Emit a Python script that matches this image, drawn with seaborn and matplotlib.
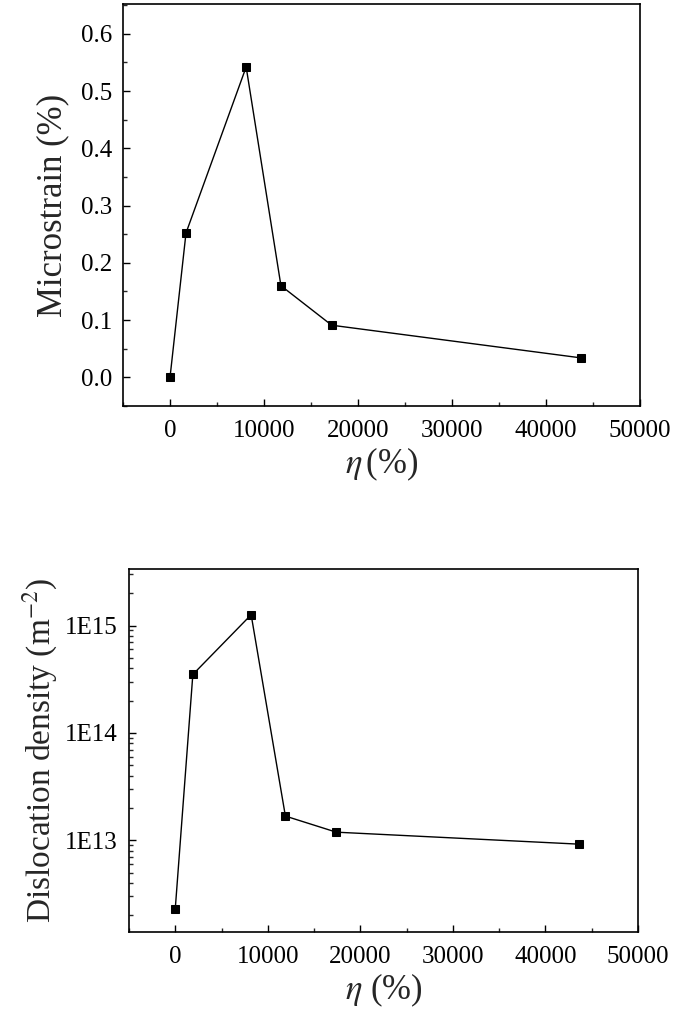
import numpy as np
import pandas as pd
import matplotlib
matplotlib.use("Agg")
import matplotlib.pyplot as plt
from matplotlib.ticker import MultipleLocator, FixedLocator, FuncFormatter, LogLocator, NullFormatter
import seaborn as sns

# Data
eta_strain = [0, 1700, 8100, 11800, 17200, 43700]
microstrain = [0.0, 0.252, 0.542, 0.160, 0.091, 0.034]

eta_disl = [0, 1900, 8200, 11900, 17400, 43650]
dislocation = [2.3e12, 3.5e14, 1.26e15, 1.68e13, 1.19e13, 9.2e12]

x_ticks = [0, 10000, 20000, 30000, 40000, 50000]
y_ticks_top = [0.0, 0.1, 0.2, 0.3, 0.4, 0.5, 0.6]
y_ticks_bot = [1e13, 1e14, 1e15]

sns.set_theme(style="ticks")
plt.rcParams['font.family'] = ['Liberation Serif', 'DejaVu Serif']
plt.rcParams['mathtext.fontset'] = 'stix'
plt.rcParams['xtick.direction'] = 'in'
plt.rcParams['ytick.direction'] = 'in'

fig = plt.figure(figsize=(6.85, 10.21), dpi=100)
ax1 = fig.add_axes([0.1796, 0.6024, 0.7547, 0.3937])
ax2 = fig.add_axes([0.1883, 0.0872, 0.7431, 0.3555])

df1 = pd.DataFrame({"eta": eta_strain, "val": microstrain})
df2 = pd.DataFrame({"eta": eta_disl, "val": dislocation})

line_kw = dict(color="black", linewidth=1.0, marker="s", markersize=5.5,
               markeredgecolor="black", markerfacecolor="black")
sns.lineplot(data=df1, x="eta", y="val", ax=ax1, sort=False, **line_kw)
sns.lineplot(data=df2, x="eta", y="val", ax=ax2, sort=False, **line_kw)

tick_fs = 18
label_fs = 25

# Top axis
ax1.set_xlim(-5000, 50000)
ax1.set_ylim(-0.05, 0.652)
ax1.xaxis.set_major_locator(FixedLocator(x_ticks))
ax1.xaxis.set_minor_locator(MultipleLocator(5000))
ax1.yaxis.set_major_locator(FixedLocator(y_ticks_top))
ax1.yaxis.set_minor_locator(MultipleLocator(0.05))
ax1.yaxis.set_major_formatter(FuncFormatter(lambda v, p: f"{v:.1f}"))
ax1.set_ylabel("Microstrain (%)", fontsize=label_fs, labelpad=8)
ax1.set_xlabel(r"$\eta\,$(%)", fontsize=label_fs, labelpad=3)

# Bottom axis
ax2.set_yscale("log")
ax2.set_xlim(-5000, 50000)
ax2.set_ylim(1.4e12, 3.36e15)
ax2.xaxis.set_major_locator(FixedLocator(x_ticks))
ax2.xaxis.set_minor_locator(MultipleLocator(5000))
ax2.yaxis.set_major_locator(FixedLocator(y_ticks_bot))
ax2.yaxis.set_major_formatter(FuncFormatter(lambda v, p: f"1E{int(round(np.log10(v)))}"))
ax2.yaxis.set_minor_locator(LogLocator(base=10, subs=np.arange(2, 10)))
ax2.yaxis.set_minor_formatter(NullFormatter())
ax2.set_ylabel(r"Dislocation density (m$^{-2}$)", fontsize=label_fs - 1, labelpad=4)
ax2.set_xlabel(r"$\eta$ (%)", fontsize=label_fs, labelpad=3)

for ax in (ax1, ax2):
    for s in ax.spines.values():
        s.set_visible(True)
        s.set_linewidth(1.2)
        s.set_color("black")
    ax.tick_params(axis="both", which="major", length=5, width=1.0, labelsize=tick_fs,
                   colors="black", pad=8)
    ax.tick_params(axis="both", which="minor", length=3, width=1.0)
    ax.tick_params(axis="x", which="major", pad=10)
    ax.set_facecolor("white")
    ax.grid(False)

fig.savefig("out.png", dpi=100, facecolor="white")
